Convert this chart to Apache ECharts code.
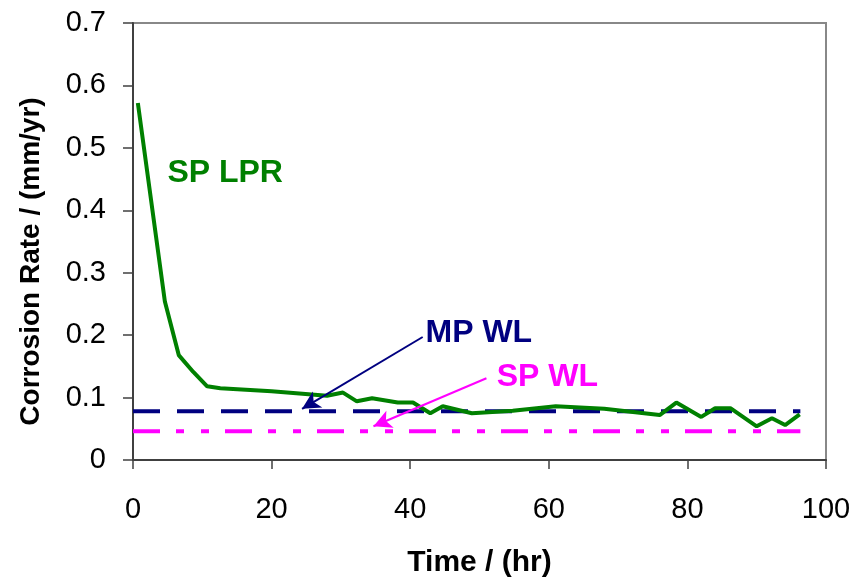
<!DOCTYPE html>
<html>
<head>
<meta charset="utf-8">
<script src="https://cdn.jsdelivr.net/npm/echarts@6/dist/echarts.min.js"></script>
<style>html,body{margin:0;padding:0;background:#fff}#c{width:857px;height:579px}</style>
</head>
<body>
<div id="c"></div>
<script>
// ---- data ----
const timeHr = [0.7, 4.6, 6.6, 8.7, 10.7, 12.6, 20, 28, 30.3, 32.3, 34.5, 38.2, 40.4, 42.9, 44.7, 48.9, 54.8, 61, 68, 76, 78.4, 82, 84, 86.2, 90, 92.2, 94.1, 96.2];
const spLpr = [0.572, 0.254, 0.168, 0.141, 0.118, 0.115, 0.110, 0.103, 0.108, 0.094, 0.099, 0.092, 0.092, 0.075, 0.086, 0.075, 0.079, 0.086, 0.082, 0.072, 0.092, 0.069, 0.083, 0.083, 0.054, 0.067, 0.056, 0.073];
const wlSpan = [0, 96.3];
const mpWl = 0.078;
const spWl = 0.046;
const xTicks = [0, 20, 40, 60, 80, 100];
const yTicks = [0, 0.1, 0.2, 0.3, 0.4, 0.5, 0.6, 0.7];
// annotations: label text, label position, arrow start, arrow tip (data units)
const labelNames = ['SP LPR', 'MP WL', 'SP WL'];
const labelPos = [[13.3, 0.459], [49.9, 0.203], [59.8, 0.133]];
const arrowStart = [null, [41.8, 0.197], [51.0, 0.131]];
const arrowTip = [null, [24.4, 0.082], [34.7, 0.054]];
const colors = ['#008000', '#000080', '#FF00FF'];

const FONT = "'Liberation Sans', Arial, sans-serif";
const chart = echarts.init(document.getElementById('c'), null, {renderer: 'canvas'});

const arrowData = [];
for (let i = 0; i < labelNames.length; i++) {
  if (arrowStart[i]) {
    arrowData.push([
      {coord: arrowStart[i], lineStyle: {color: colors[i], width: 2, type: 'solid'}},
      {coord: arrowTip[i]}
    ]);
  }
}

chart.setOption({
  animation: false,
  backgroundColor: '#fff',
  grid: {left: 133, right: 31, top: 23, bottom: 119, show: true, borderColor: '#888', borderWidth: 2,
    containLabel: false, outerBoundsMode: 'none'},
  xAxis: {
    type: 'value', min: xTicks[0], max: xTicks[xTicks.length - 1], interval: 20,
    name: 'Time / (hr)', nameLocation: 'middle', nameGap: 88,
    nameTextStyle: {fontFamily: FONT, fontSize: 30, fontWeight: 'bold', color: '#000'},
    axisLine: {onZero: false, lineStyle: {color: '#404040', width: 2}},
    axisTick: {show: true, length: 9, lineStyle: {color: '#404040', width: 1.5}},
    axisLabel: {fontFamily: FONT, fontSize: 29, color: '#000', margin: 35},
    splitLine: {show: false}
  },
  yAxis: {
    type: 'value', min: yTicks[0], max: yTicks[yTicks.length - 1], interval: 0.1,
    name: 'Corrosion Rate / (mm/yr)', nameLocation: 'middle', nameGap: 88,
    nameTextStyle: {fontFamily: FONT, fontSize: 28, fontWeight: 'bold', color: '#000', padding: [0, 40, 0, 0]},
    axisLine: {lineStyle: {color: '#404040', width: 2}},
    axisTick: {show: true, length: 10, lineStyle: {color: '#404040', width: 1.5}},
    axisLabel: {fontFamily: FONT, fontSize: 29, color: '#000', margin: 27,
      formatter: v => String(Math.round(v * 10) / 10)},
    splitLine: {show: false}
  },
  series: [
    {
      name: 'MP WL', type: 'line', symbol: 'none',
      data: wlSpan.map(t => [t, mpWl]),
      lineStyle: {color: colors[1], width: 4, type: [27, 17], cap: 'butt'},
      z: 2
    },
    {
      name: 'SP WL', type: 'line', symbol: 'none',
      data: wlSpan.map(t => [t, spWl]),
      lineStyle: {color: colors[2], width: 4, type: [27, 16, 8, 17, 8, 16], cap: 'butt'},
      z: 2
    },
    {
      name: 'SP LPR', type: 'line', symbol: 'none',
      data: timeHr.map((t, i) => [t, spLpr[i]]),
      lineStyle: {color: colors[0], width: 4},
      z: 3,
      markLine: {
        silent: true, symbol: ['none', 'arrow'], symbolSize: [14, 18],
        label: {show: false},
        data: arrowData
      }
    },
    {
      type: 'scatter', symbolSize: 0, silent: true, z: 5,
      itemStyle: {opacity: 1},
      data: labelNames.map((n, i) => ({name: n, value: labelPos[i],
        label: {color: colors[i]}})),
      label: {show: true, position: 'inside', formatter: p => p.name, opacity: 1,
        fontFamily: FONT, fontSize: 32, fontWeight: 'bold'}
    }
  ]
});
</script>
</body>
</html>
